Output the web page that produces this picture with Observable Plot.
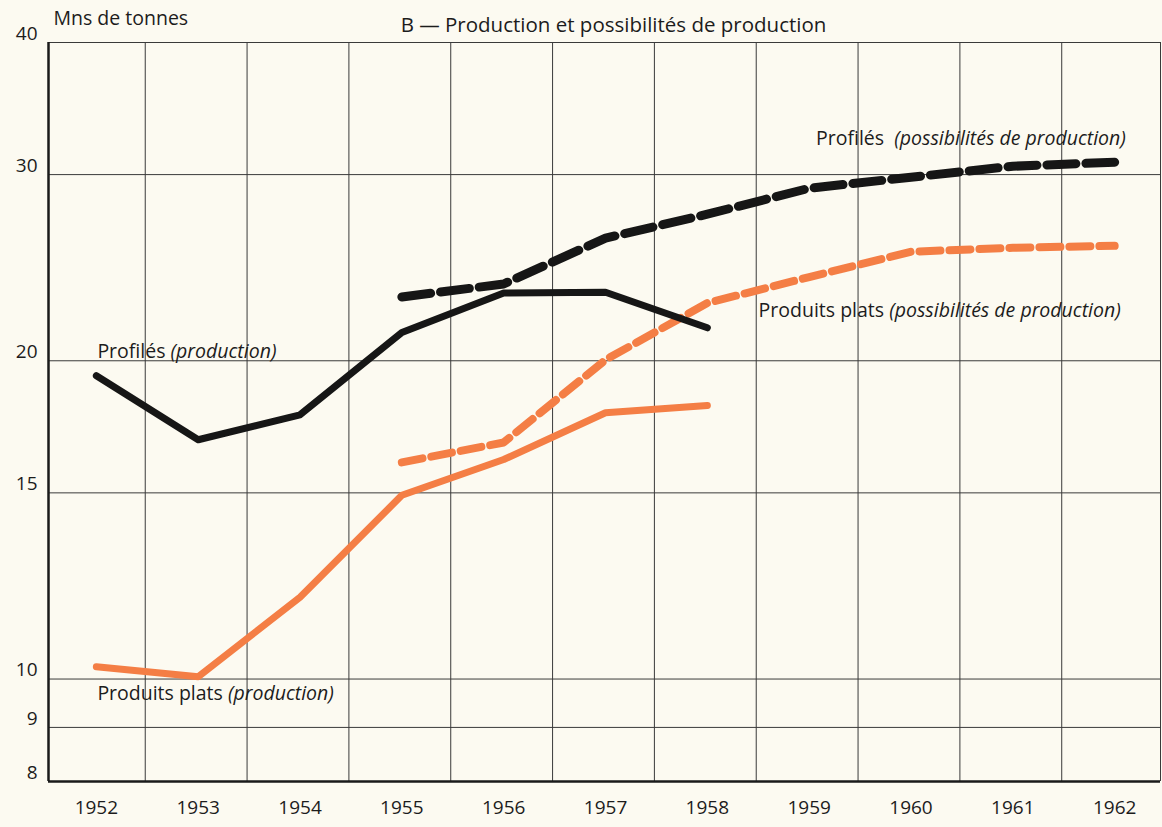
<!DOCTYPE html>
<html><head><meta charset="utf-8">
<script src="https://cdn.jsdelivr.net/npm/d3@7"></script>
<script src="https://cdn.jsdelivr.net/npm/@observablehq/plot@0.6"></script>
<style>
html,body{margin:0;padding:0;background:#fcfaf1;}
svg{display:block}
</style>
</head><body><div id="chart"></div>
<script>
// ---- data ----
const title = "B — Production et possibilités de production";
const unitLabel = "Mns de tonnes";
const years = [1952,1953,1954,1955,1956,1957,1958,1959,1960,1961,1962];
const prodYears = [1952,1953,1954,1955,1956,1957,1958];
const profilesProd = [19.36,16.84,17.78,21.27,23.18,23.22,21.49];
const platsProd = [10.27,10.05,11.95,14.92,16.13,17.86,18.14];
const possYears = [1955,1956,1957,1958,1959,1960,1961,1962];
const profilesPoss = [22.98,23.64,26.12,27.52,29.12,29.83,30.55,30.82];
const platsPoss = [16.03,16.74,20.04,22.68,24.0,25.36,25.58,25.69];
const yTicks = [8,9,10,15,20,30,40];
const yGrid = [9,10,15,20,30,40];
const xGrid = [1952.48,1953.48,1954.48,1955.48,1956.48,1957.48,1958.48,1959.48,1960.48,1961.48];
const labelsLeft = [
  {a:"Profilés ", b:"(production)", x:1952.01, y:20.39},
  {a:"Produits plats ", b:"(production)", x:1952.01, y:9.68}
];
const labelsRight = [
  {a:"Profilés  ", b:"(possibilités de production)", x:1962.11, y:32.47},
  {a:"Produits plats ", b:"(possibilités de production)", x:1962.06, y:22.3}
];

const toRows = (xs, ys) => xs.map((x, i) => ({x, y: ys[i]}));

const black = "#161616";
const orange = "#f47e45";
const ink = "#1c1c1c";
const font = "'Open Sans', Lato, sans-serif";

const chart = Plot.plot({
  width: 1162,
  height: 827,
  marginTop: 42,
  marginBottom: 46,
  marginLeft: 48,
  marginRight: 2,
  style: {background: "#fcfaf1", fontFamily: font, color: ink},
  x: {domain: [1951.53, 1962.45], label: null},
  y: {type: "log", domain: [8, 40], label: null},
  marks: [
    Plot.ruleY(yGrid, {stroke: "#3a3a3a", strokeWidth: 1}),
    Plot.ruleX(xGrid, {stroke: "#3a3a3a", strokeWidth: 1}),
    Plot.ruleX([1962.45], {stroke: "#3a3a3a", strokeWidth: 1}),
    Plot.ruleX([1951.53], {stroke: "#1a1a1a", strokeWidth: 2.5}),
    Plot.ruleY([8], {stroke: "#1a1a1a", strokeWidth: 2.5}),
    Plot.axisY({ticks: yTicks, tickSize: 0, tickPadding: 11, dy: -9, fontSize: 19, tickFormat: d => String(d), fill: ink, label: null}),
    Plot.axisX({ticks: years, tickSize: 0, tickPadding: 19, fontSize: 19, tickFormat: d => String(d), fill: ink, label: null}),
    Plot.line(toRows(prodYears, platsProd), {x: "x", y: "y", stroke: orange, strokeWidth: 7}),
    Plot.line(toRows(possYears, platsPoss), {x: "x", y: "y", stroke: orange, strokeWidth: 8, strokeDasharray: "21 9"}),
    Plot.line(toRows(prodYears, profilesProd), {x: "x", y: "y", stroke: black, strokeWidth: 7}),
    Plot.line(toRows(possYears, profilesPoss), {x: "x", y: "y", stroke: black, strokeWidth: 9, strokeDasharray: "29 10"}),
    Plot.text(labelsLeft, {x: "x", y: "y", text: d => d.a + d.b, textAnchor: "start", fontSize: 19.5, fill: ink}),
    Plot.text(labelsRight, {x: "x", y: "y", text: d => d.a + d.b, textAnchor: "end", fontSize: 19.5, fill: ink}),
    Plot.text([title], {frameAnchor: "top", lineAnchor: "middle", dx: 9, dy: -17, fontSize: 20.5, fill: ink}),
    Plot.text([unitLabel], {frameAnchor: "top-left", lineAnchor: "middle", textAnchor: "start", dx: 5, dy: -24, fontSize: 19.5, fill: ink})
  ]
});

// mixed roman / italic in series labels
const allLabels = labelsLeft.concat(labelsRight);
d3.select(chart).selectAll("text").each(function() {
  const l = allLabels.find(l => l.a + l.b === this.textContent);
  if (!l) return;
  const t = d3.select(this);
  t.text(null);
  t.append("tspan").style("white-space", "pre").text(l.a);
  t.append("tspan").style("font-style", "italic").text(l.b);
});

document.getElementById("chart").appendChild(chart);
</script>
</body></html>
